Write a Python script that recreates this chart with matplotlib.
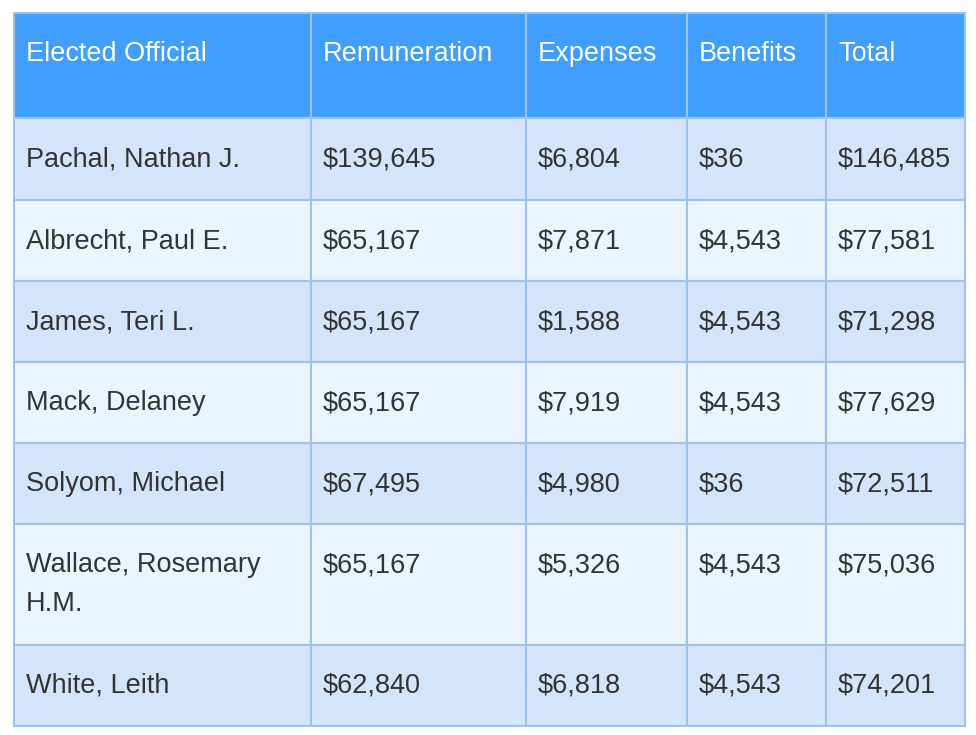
import matplotlib
matplotlib.use("Agg")
import matplotlib.pyplot as plt
from matplotlib.patches import Rectangle

headers = ["Elected Official", "Remuneration", "Expenses", "Benefits", "Total"]
officials = ["Pachal, Nathan J.", "Albrecht, Paul E.", "James, Teri L.", "Mack, Delaney",
             "Solyom, Michael", "Wallace, Rosemary\nH.M.", "White, Leith"]
remuneration = ["$139,645", "$65,167", "$65,167", "$65,167", "$67,495", "$65,167", "$62,840"]
expenses = ["$6,804", "$7,871", "$1,588", "$7,919", "$4,980", "$5,326", "$6,818"]
benefits = ["$36", "$4,543", "$4,543", "$4,543", "$36", "$4,543", "$4,543"]
totals = ["$146,485", "$77,581", "$71,298", "$77,629", "$72,511", "$75,036", "$74,201"]

col_edges = [14, 311, 526, 687, 826, 965]
row_edges = [13, 118, 200, 281, 362, 443, 524, 645, 726]

fig = plt.figure(figsize=(9.76, 7.35), dpi=100)
ax = fig.add_axes([0, 0, 1, 1])
ax.set_xlim(0, 976)
ax.set_ylim(735, 0)
ax.axis("off")

font = "Liberation Sans"
border = "#9ec2ea"
rows = [headers] + [list(r) for r in zip(officials, remuneration, expenses, benefits, totals)]
for i, row in enumerate(rows):
    top, bot = row_edges[i], row_edges[i + 1]
    if i == 0:
        fc, tc = "#409eff", "white"
    else:
        fc = "#d4e5fb" if i % 2 == 1 else "#eaf4ff"
        tc = "#333333"
    for j, txt in enumerate(row):
        l, r = col_edges[j], col_edges[j + 1]
        ax.add_patch(Rectangle((l, top), r - l, bot - top, facecolor=fc,
                               edgecolor=border, linewidth=1.5))
        for k, line in enumerate(txt.split("\n")):
            ax.text(l + 12, top + 41 + k * 39, line, ha="left", va="center",
                    color=tc, fontsize=19.5, fontfamily=font)

fig.savefig("out.png", dpi=100)
